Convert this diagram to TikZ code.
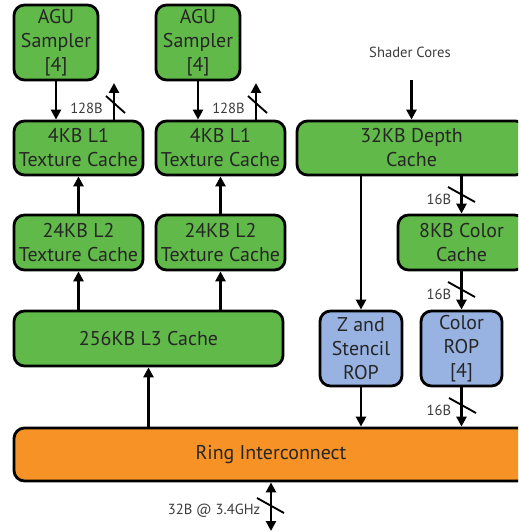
\documentclass[tikz,border=0pt]{standalone}
\usepackage{fontspec}
\setmainfont{PT Sans}
\usetikzlibrary{arrows.meta}
\definecolor{boxgreen}{RGB}{96,185,72}
\definecolor{boxblue}{RGB}{152,178,226}
\definecolor{boxorange}{RGB}{246,146,38}
\definecolor{labelgray}{RGB}{60,60,60}

\begin{document}
\begin{tikzpicture}[x=0.03cm, y=-0.03cm, line width=2.4pt]
    \tikzstyle{box_style} = [draw=black, rounded corners=9pt, align=center, inner sep=0pt,
        font=\fontsize{17}{20.5}\selectfont, text=black!85]
    \tikzstyle{box_green} = [box_style, fill=boxgreen]
    \tikzstyle{box_blue} = [box_style, fill=boxblue]
    \tikzstyle{box_orange} = [box_style, fill=boxorange]
    \tikzstyle{arrow_style} = [draw=black, -{Triangle[length=8.5pt, width=8.5pt]}]
    \tikzstyle{dual_style} = [draw=black, {Triangle[length=8.5pt, width=8.5pt]}-{Triangle[length=8.5pt, width=8.5pt]}]
    \tikzstyle{slash_style} = [draw=black, line width=1.6pt]
    \tikzstyle{label_style} = [text=labelgray, inner sep=0pt, font=\fontsize{12.5}{14}\selectfont]
    \useasboundingbox (0,0) rectangle (518,532);
    \clip (0,0) rectangle (518,532);

    \node[box_green, minimum width=2.52cm, minimum height=2.25cm] (agu1) at (56,42.5) {AGU\\Sampler\\{[4]}};
    \node[box_green, minimum width=2.52cm, minimum height=2.25cm] (agu2) at (198,42.5) {AGU\\Sampler\\{[4]}};
    \node[box_green, minimum width=3.87cm, minimum height=1.62cm] (l1a) at (78.5,148) {4KB L1\\Texture Cache};
    \node[box_green, minimum width=3.87cm, minimum height=1.62cm] (l1b) at (220.5,148) {4KB L1\\Texture Cache};
    \node[box_green, minimum width=6.87cm, minimum height=1.62cm] (depth) at (411.5,148) {32KB Depth\\Cache};
    \node[box_green, minimum width=3.87cm, minimum height=1.65cm] (l2a) at (78.5,242.5) {24KB L2\\Texture Cache};
    \node[box_green, minimum width=3.87cm, minimum height=1.65cm] (l2b) at (220.5,242.5) {24KB L2\\Texture Cache};
    \node[box_green, minimum width=3.81cm, minimum height=1.65cm] (color8) at (461.5,242.5) {8KB Color\\Cache};
    \node[box_green, minimum width=8.07cm, minimum height=1.65cm] (l3) at (148.5,338.5) {256KB L3 Cache};
    \node[box_blue, minimum width=2.46cm, minimum height=2.25cm] (zrop) at (361,348.5) {Z and\\Stencil\\ROP};
    \node[box_blue, minimum width=2.43cm, minimum height=2.25cm] (crop) at (461.5,348.5) {Color\\ROP\\{[4]}};
    \node[box_orange, minimum width=15.42cm, minimum height=1.59cm] (ring) at (271,454.5) {Ring Interconnect};

    \node[label_style] (shader) at (410,52) {Shader Cores};
    \node[label_style] (b128a) at (86.5,108) {128B};
    \node[label_style] (b128b) at (228.5,108) {128B};
    \node[label_style] (b16a) at (439,199) {16B};
    \node[label_style] (b16b) at (439,294) {16B};
    \node[label_style] (b16c) at (439,410) {16B};
    \node[label_style] (b32) at (214,511) {32B @ 3.4GHz};

    \coordinate (up1) at (114,83);
    \coordinate (up2) at (256,83);
    \coordinate (scin) at (411.5,80);
    \coordinate (mem) at (271,531);

    \draw[arrow_style] (agu1) -- (agu1 |- l1a.north);
    \draw[arrow_style] (agu2) -- (agu2 |- l1b.north);
    \draw[arrow_style] (l1a.north -| up1) -- (up1);
    \draw[arrow_style] (l1b.north -| up2) -- (up2);
    \draw[arrow_style] (l2a) -- (l1a.south);
    \draw[arrow_style] (l2b) -- (l1b.south);
    \draw[arrow_style] (l3.north -| l2a) -- (l2a.south);
    \draw[arrow_style] (l3.north -| l2b) -- (l2b.south);
    \draw[arrow_style] (ring.north -| l3) -- (l3.south);
    \draw[arrow_style] (scin) -- (depth.north -| scin);
    \draw[arrow_style] (depth.south -| zrop) -- (zrop.north);
    \draw[arrow_style] (depth.south -| color8) -- (color8.north);
    \draw[arrow_style] (color8) -- (crop.north);
    \draw[arrow_style] (zrop) -- (ring.north -| zrop);
    \draw[arrow_style] (crop) -- (ring.north -| crop);
    \draw[dual_style] (ring.south -| mem) -- (mem);

    % bus width marks
    \draw[slash_style] (106,96) -- (125,113);
    \draw[slash_style] (248,96) -- (267,113);
    \draw[slash_style] (448,187) -- (475,202);
    \draw[slash_style] (448,282) -- (475,297);
    \draw[slash_style] (449,398) -- (476,413);
    \draw[slash_style] (257,498) -- (284,513);
\end{tikzpicture}
\end{document}
